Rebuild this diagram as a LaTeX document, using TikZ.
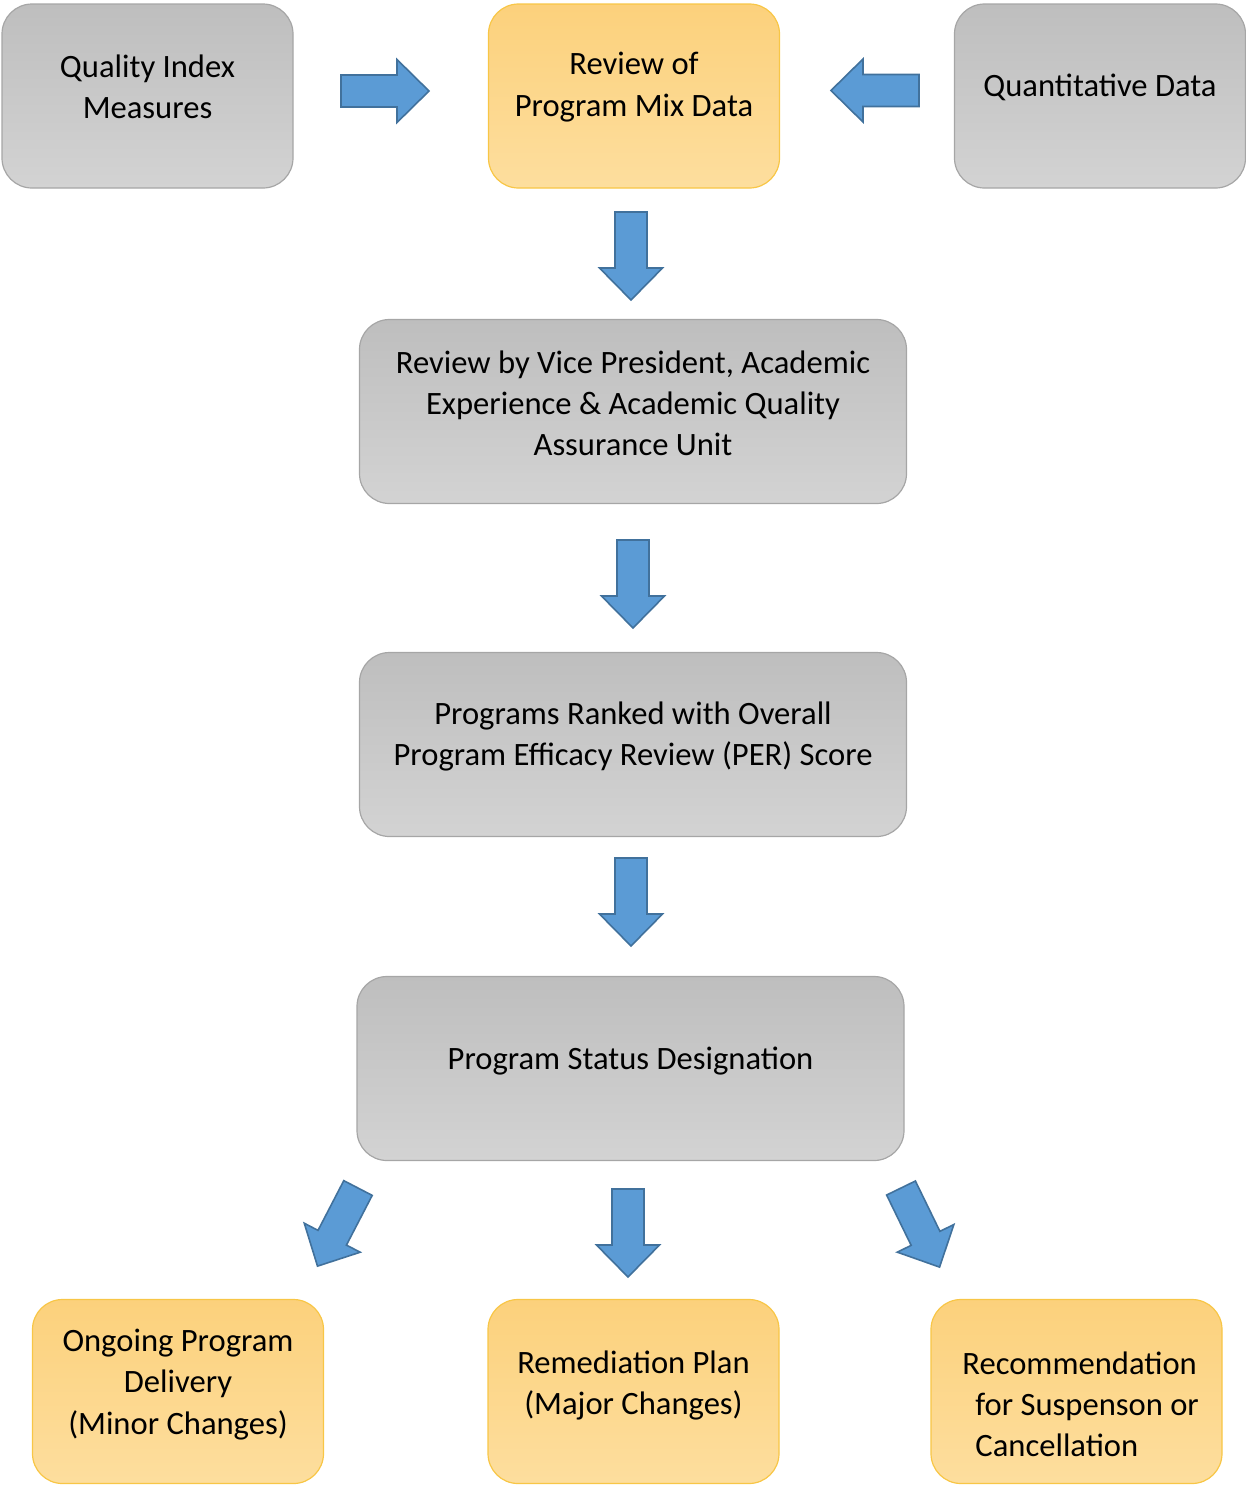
\documentclass[tikz,border=0pt]{standalone}
\usepackage{fontspec}
\setmainfont{Carlito}
\definecolor{graytop}{HTML}{BEBEBE}
\definecolor{graybot}{HTML}{D3D3D3}
\definecolor{grayline}{HTML}{A6A6A6}
\definecolor{orgtop}{HTML}{FCD17C}
\definecolor{orgbot}{HTML}{FDDE9E}
\definecolor{orgline}{HTML}{F8C646}
\definecolor{bluefill}{HTML}{5B9BD5}
\definecolor{blueline}{HTML}{41719C}
\tikzset{
  basebox/.style={rounded corners=15pt, line width=0.6pt, shading=axis, minimum height=92pt, inner sep=0pt},
  gbox/.style={basebox, draw=grayline, top color=graytop, bottom color=graybot},
  obox/.style={basebox, draw=orgline, top color=orgtop, bottom color=orgbot},
  narrowbox/.style={minimum width=145.5pt},
  widebox/.style={minimum width=273.5pt},
  txt/.style={align=center, font=\fontsize{16.3}{20.6}\selectfont, inner sep=0pt},
  blockarrow/.style={fill=bluefill, draw=blueline, line width=0.8pt, line join=miter},
}
\newcommand{\barrow}[3]{\path[blockarrow, shift={(#1,#2)}, rotate=#3]
  (0,-16) -- (56,-16) -- (56,-31.5) -- (88,0) -- (56,31.5) -- (56,16) -- (0,16) -- cycle;}
\begin{document}
\begin{tikzpicture}[x=0.5pt, y=-0.5pt]
\useasboundingbox (0,0) rectangle (1246,1485);
% boxes
\node[gbox, narrowbox] (qim) at (147.5,96) {};
\node[obox, narrowbox] (rpm) at (634,96) {};
\node[gbox, narrowbox] (qd) at (1100,96) {};
\node[gbox, widebox] (vp) at (633,411.5) {};
\node[gbox, widebox] (per) at (633,744.5) {};
\node[gbox, widebox] (psd) at (630.5,1068.5) {};
\node[obox, narrowbox] (opd) at (178,1391.5) {};
\node[obox, narrowbox] (rem) at (633.5,1391.5) {};
\node[obox, narrowbox] (rec) at (1076.5,1391.5) {};
% texts
\node[txt] (qimt) at ([yshift=4.5pt]qim.center) {Quality Index\\Measures};
\node[txt] (rpmt) at ([yshift=4.5pt]rpm.center) {Review of\\Program Mix Data};
\node[txt] (qdt) at ([yshift=4.5pt]qd.center) {Quantitative Data};
\node[txt] (vpt) at ([yshift=4pt]vp.center) {Review by Vice President, Academic\\Experience \& Academic Quality\\Assurance Unit};
\node[txt] (pert) at ([yshift=4pt]per.center) {Programs Ranked with Overall\\Program Efficacy Review (PER) Score};
\node[txt] (psdt) at ([yshift=3.5pt]psd.center) {Program Status Designation};
\node[txt] (opdt) at ([yshift=3.5pt]opd.center) {Ongoing Program\\Delivery\\(Minor Changes)};
\node[txt] (remt) at ([yshift=3pt]rem.center) {Remediation Plan\\(Major Changes)};
\node[txt, align=left, anchor=west] (rect) at (962,1404) {Recommendation\\\hspace*{6.5pt}for Suspenson or\\\hspace*{6.5pt}Cancellation};
% block arrows
\barrow{341}{91}{0}
\barrow{919}{90.5}{180}
\barrow{631}{212}{-90}
\barrow{633}{540}{-90}
\barrow{631}{858}{-90}
\barrow{628}{1189}{-90}
\barrow{358}{1188}{-117.4}
\barrow{901}{1188}{-64}
\end{tikzpicture}
\end{document}
